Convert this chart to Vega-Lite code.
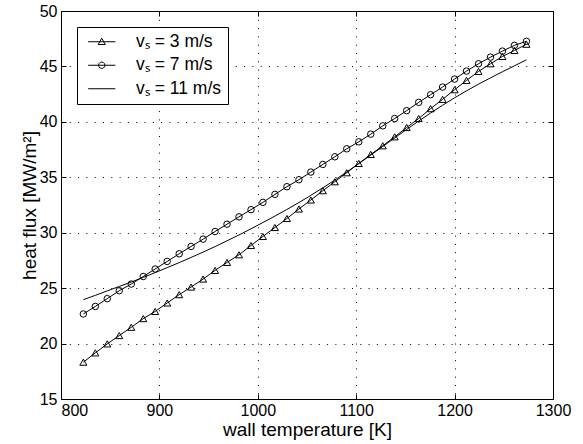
{
  "$schema": "https://vega.github.io/schema/vega-lite/v6.json",
  "width": 492,
  "height": 388,
  "autosize": {"type": "none"},
  "padding": {"left": 61, "top": 11, "right": 30, "bottom": 45},
  "background": "white",
  "config": {
    "font": "Liberation Sans",
    "view": {"stroke": "black", "strokeWidth": 1},
    "axis": {
      "domainColor": "black",
      "tickColor": "black",
      "labelColor": "black",
      "titleColor": "black",
      "labelFont": "Liberation Sans",
      "titleFont": "Liberation Sans",
      "labelFontSize": 16,
      "titleFontSize": 19,
      "titleFontWeight": "normal",
      "gridColor": "black",
      "gridOpacity": 1,
      "gridWidth": 1,
      "gridDash": [1, 7.3],
      "tickSize": -5
    },
    "legend": {
      "labelFont": "Liberation Sans",
      "labelFontSize": 17.5,
      "labelColor": "black",
      "strokeColor": "black",
      "fillColor": "white",
      "padding": 6,
      "symbolSize": 256,
      "symbolOffset": 10,
      "symbolStrokeColor": "black",
      "symbolStrokeWidth": 1,
      "symbolFillColor": "transparent",
      "symbolOpacity": 1,
      "labelOffset": 25.6,
      "rowPadding": 4.5
    }
  },
  "data": {
    "values": [
      {"T": 822.7, "q": 18.32, "s": "3"}, {"T": 834.9, "q": 19.16, "s": "3"}, {"T": 847.0, "q": 19.97, "s": "3"}, {"T": 859.2, "q": 20.72, "s": "3"},
      {"T": 871.4, "q": 21.47, "s": "3"}, {"T": 883.6, "q": 22.25, "s": "3"}, {"T": 895.7, "q": 22.9, "s": "3"}, {"T": 907.9, "q": 23.66, "s": "3"},
      {"T": 920.1, "q": 24.41, "s": "3"}, {"T": 932.2, "q": 25.1, "s": "3"}, {"T": 944.4, "q": 25.82, "s": "3"}, {"T": 956.6, "q": 26.6, "s": "3"},
      {"T": 968.7, "q": 27.32, "s": "3"}, {"T": 980.9, "q": 28.01, "s": "3"}, {"T": 993.1, "q": 28.85, "s": "3"}, {"T": 1005.2, "q": 29.66, "s": "3"},
      {"T": 1017.4, "q": 30.47, "s": "3"}, {"T": 1029.6, "q": 31.28, "s": "3"}, {"T": 1041.8, "q": 32.14, "s": "3"}, {"T": 1053.9, "q": 32.95, "s": "3"},
      {"T": 1066.1, "q": 33.79, "s": "3"}, {"T": 1078.3, "q": 34.6, "s": "3"}, {"T": 1090.4, "q": 35.41, "s": "3"}, {"T": 1102.6, "q": 36.25, "s": "3"},
      {"T": 1114.8, "q": 37.06, "s": "3"}, {"T": 1127.0, "q": 37.84, "s": "3"}, {"T": 1139.1, "q": 38.65, "s": "3"}, {"T": 1151.3, "q": 39.49, "s": "3"},
      {"T": 1163.5, "q": 40.3, "s": "3"}, {"T": 1175.6, "q": 41.19, "s": "3"}, {"T": 1187.8, "q": 42.03, "s": "3"}, {"T": 1200.0, "q": 42.9, "s": "3"},
      {"T": 1212.1, "q": 43.74, "s": "3"}, {"T": 1224.3, "q": 44.55, "s": "3"}, {"T": 1236.5, "q": 45.24, "s": "3"}, {"T": 1248.6, "q": 45.9, "s": "3"},
      {"T": 1260.8, "q": 46.44, "s": "3"}, {"T": 1273.0, "q": 47.0, "s": "3"},
      {"T": 822.7, "q": 22.67, "s": "7"}, {"T": 834.9, "q": 23.35, "s": "7"}, {"T": 847.0, "q": 24.05, "s": "7"}, {"T": 859.2, "q": 24.77, "s": "7"},
      {"T": 871.4, "q": 25.37, "s": "7"}, {"T": 883.6, "q": 26.05, "s": "7"}, {"T": 895.7, "q": 26.73, "s": "7"}, {"T": 907.9, "q": 27.41, "s": "7"},
      {"T": 920.1, "q": 28.1, "s": "7"}, {"T": 932.2, "q": 28.76, "s": "7"}, {"T": 944.4, "q": 29.42, "s": "7"}, {"T": 956.6, "q": 30.11, "s": "7"},
      {"T": 968.7, "q": 30.77, "s": "7"}, {"T": 980.9, "q": 31.43, "s": "7"}, {"T": 993.1, "q": 32.08, "s": "7"}, {"T": 1005.2, "q": 32.74, "s": "7"},
      {"T": 1017.4, "q": 33.46, "s": "7"}, {"T": 1029.6, "q": 34.15, "s": "7"}, {"T": 1041.8, "q": 34.78, "s": "7"}, {"T": 1053.9, "q": 35.47, "s": "7"},
      {"T": 1066.1, "q": 36.16, "s": "7"}, {"T": 1078.3, "q": 36.85, "s": "7"}, {"T": 1090.4, "q": 37.57, "s": "7"}, {"T": 1102.6, "q": 38.2, "s": "7"},
      {"T": 1114.8, "q": 38.89, "s": "7"}, {"T": 1127.0, "q": 39.64, "s": "7"}, {"T": 1139.1, "q": 40.3, "s": "7"}, {"T": 1151.3, "q": 41.01, "s": "7"},
      {"T": 1163.5, "q": 41.76, "s": "7"}, {"T": 1175.6, "q": 42.45, "s": "7"}, {"T": 1187.8, "q": 43.14, "s": "7"}, {"T": 1200.0, "q": 43.86, "s": "7"},
      {"T": 1212.1, "q": 44.58, "s": "7"}, {"T": 1224.3, "q": 45.24, "s": "7"}, {"T": 1236.5, "q": 45.84, "s": "7"}, {"T": 1248.6, "q": 46.38, "s": "7"},
      {"T": 1260.8, "q": 46.9, "s": "7"}, {"T": 1273.0, "q": 47.27, "s": "7"},
      {"T": 822.7, "q": 23.96, "s": "11"}, {"T": 834.9, "q": 24.35, "s": "11"}, {"T": 847.0, "q": 24.75, "s": "11"}, {"T": 859.2, "q": 25.15, "s": "11"},
      {"T": 871.4, "q": 25.55, "s": "11"}, {"T": 883.6, "q": 25.97, "s": "11"}, {"T": 895.7, "q": 26.4, "s": "11"}, {"T": 907.9, "q": 26.85, "s": "11"},
      {"T": 920.1, "q": 27.3, "s": "11"}, {"T": 932.2, "q": 27.77, "s": "11"}, {"T": 944.4, "q": 28.25, "s": "11"}, {"T": 956.6, "q": 28.75, "s": "11"},
      {"T": 968.7, "q": 29.27, "s": "11"}, {"T": 980.9, "q": 29.8, "s": "11"}, {"T": 993.1, "q": 30.35, "s": "11"}, {"T": 1005.2, "q": 30.92, "s": "11"},
      {"T": 1017.4, "q": 31.5, "s": "11"}, {"T": 1029.6, "q": 32.1, "s": "11"}, {"T": 1041.8, "q": 32.72, "s": "11"}, {"T": 1053.9, "q": 33.37, "s": "11"},
      {"T": 1066.1, "q": 34.05, "s": "11"}, {"T": 1078.3, "q": 34.75, "s": "11"}, {"T": 1090.4, "q": 35.48, "s": "11"}, {"T": 1102.6, "q": 36.23, "s": "11"},
      {"T": 1114.8, "q": 37.0, "s": "11"}, {"T": 1127.0, "q": 37.78, "s": "11"}, {"T": 1139.1, "q": 38.55, "s": "11"}, {"T": 1151.3, "q": 39.32, "s": "11"},
      {"T": 1163.5, "q": 40.07, "s": "11"}, {"T": 1175.6, "q": 40.8, "s": "11"}, {"T": 1187.8, "q": 41.5, "s": "11"}, {"T": 1200.0, "q": 42.17, "s": "11"},
      {"T": 1212.1, "q": 42.8, "s": "11"}, {"T": 1224.3, "q": 43.4, "s": "11"}, {"T": 1236.5, "q": 43.97, "s": "11"}, {"T": 1248.6, "q": 44.52, "s": "11"},
      {"T": 1260.8, "q": 45.05, "s": "11"}, {"T": 1273.0, "q": 45.6, "s": "11"}
    ]
  },
  "layer": [
    {
      "mark": {"type": "line", "color": "black", "strokeWidth": 1},
      "encoding": {
        "x": {
          "field": "T", "type": "quantitative",
          "scale": {"domain": [800, 1300], "nice": false, "zero": false},
          "axis": {
            "orient": "bottom", "values": [800, 900, 1000, 1100, 1200, 1300], "format": "d",
            "title": "wall temperature [K]", "labelPadding": 8, "titlePadding": 2,
            "labelAlign": {"expr": "datum.value == 800 ? 'left' : 'center'"}
          }
        },
        "y": {
          "field": "q", "type": "quantitative",
          "scale": {"domain": [15, 50], "nice": false, "zero": false},
          "axis": {
            "orient": "left", "values": [15, 20, 25, 30, 35, 40, 45, 50], "format": "d",
            "title": "heat flux [MW/m²]", "labelPadding": 9, "titlePadding": 0
          }
        },
        "detail": {"field": "s"}
      }
    },
    {
      "transform": [{"filter": "datum.s == '3'"}],
      "mark": {"type": "point", "shape": "triangle-up", "filled": false, "stroke": "black", "strokeWidth": 1, "size": 50, "opacity": 1},
      "encoding": {
        "x": {
          "field": "T", "type": "quantitative",
          "axis": {"orient": "top", "values": [800, 900, 1000, 1100, 1200, 1300], "labels": false, "grid": false, "domain": false, "title": null}
        },
        "y": {
          "field": "q", "type": "quantitative",
          "axis": {"orient": "right", "values": [15, 20, 25, 30, 35, 40, 45, 50], "labels": false, "grid": false, "domain": false, "title": null}
        }
      }
    },
    {
      "transform": [{"filter": "datum.s == '7'"}],
      "mark": {"type": "point", "shape": "circle", "filled": false, "stroke": "black", "strokeWidth": 1, "size": 42, "opacity": 1},
      "encoding": {
        "x": {"field": "T", "type": "quantitative", "axis": null},
        "y": {"field": "q", "type": "quantitative", "axis": null}
      }
    },
    {
      "mark": {"type": "point", "filled": false, "color": "black", "strokeWidth": 1, "opacity": 0},
      "encoding": {
        "x": {"field": "T", "type": "quantitative", "axis": null},
        "y": {"field": "q", "type": "quantitative", "axis": null},
        "shape": {
          "field": "s", "type": "nominal",
          "scale": {
            "domain": ["3", "7", "11"],
            "range": [
              "M-1.7,0H1.7M-0.45,0.35L0,-0.44L0.45,0.35Z",
              "M-1.7,0H1.7M0.4,0L0.346,0.2L0.2,0.346L0,0.4L-0.2,0.346L-0.346,0.2L-0.4,0L-0.346,-0.2L-0.2,-0.346L0,-0.4L0.2,-0.346L0.346,-0.2Z",
              "M-1.7,0H1.7"
            ]
          },
          "legend": {
            "title": null,
            "orient": "top-left",
            "offset": 16,
            "symbolOpacity": 1,
            "labelExpr": "'vₛ = ' + datum.label + ' m/s'"
          }
        }
      }
    }
  ],
  "resolve": {"axis": {"x": "independent", "y": "independent"}}
}
